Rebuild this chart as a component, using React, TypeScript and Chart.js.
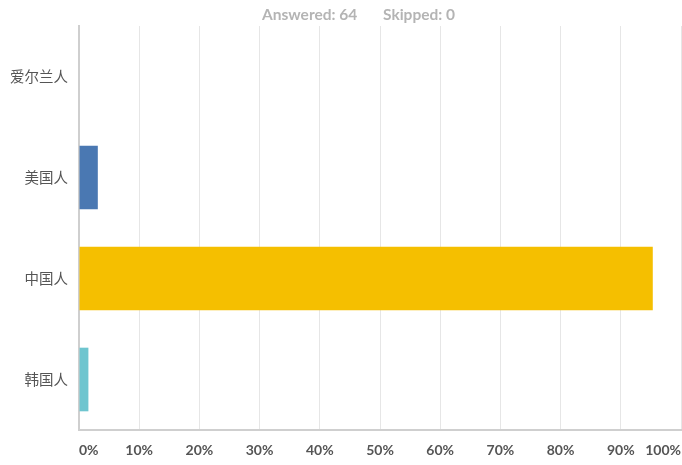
import React, { useEffect, useRef } from "react";
import { Chart, registerables } from "chart.js";

Chart.register(...registerables);

const categories = ["爱尔兰人", "美国人", "中国人", "韩国人"];
const percentValues = [0, 3.125, 95.3125, 1.5625];
const barColors = ["#5b8fc9", "#4a78b2", "#f5bf00", "#6ec5cf"];
const xTickValues = [0, 10, 20, 30, 40, 50, 60, 70, 80, 90, 100];
const headerTexts = ["Answered: 64", "Skipped: 0"];

const headerPlugin = {
  id: "headerText",
  afterDraw(chart: any) {
    const ctx = chart.ctx;
    ctx.save();
    ctx.font = "bold 15.5px Lato, 'Open Sans', sans-serif";
    ctx.fillStyle = "#b4b4b4";
    ctx.textBaseline = "middle";
    ctx.textAlign = "left";
    ctx.fillText(headerTexts[0], 262, 15);
    ctx.fillText(headerTexts[1], 383, 15);
    ctx.restore();
  },
};

export default function App() {
  const ref = useRef<HTMLCanvasElement | null>(null);
  useEffect(() => {
    if (!ref.current) return;
    const chart = new Chart(ref.current, {
      type: "bar",
      data: {
        labels: categories,
        datasets: [
          {
            data: percentValues,
            backgroundColor: barColors,
            borderWidth: 0,
            barPercentage: 0.63,
            categoryPercentage: 1,
          },
        ],
      },
      options: {
        indexAxis: "y",
        animation: false,
        responsive: false,
        maintainAspectRatio: false,
        layout: { padding: { top: 26, right: 1, left: 0, bottom: 0 } },
        plugins: {
          legend: { display: false },
          title: { display: false },
          tooltip: { enabled: false },
        },
        scales: {
          x: {
            min: 0,
            max: 100,
            afterBuildTicks(scale: any) {
              scale.ticks = xTickValues.map((v) => ({ value: v }));
            },
            afterFit(scale: any) {
              scale.height = 35;
              scale.paddingLeft = 0;
              scale.paddingRight = 0;
            },
            grid: {
              color: "#e6e6e6",
              lineWidth: 1,
              drawTicks: false,
            },
            border: { color: "#cfcfcf", width: 2 },
            ticks: {
              align: "inner",
              padding: 12,
              color: "#555555",
              font: { family: "Lato, 'Open Sans', sans-serif", size: 14, weight: "bold" },
              callback: (v: any) => v + "%",
            },
          },
          y: {
            afterFit(scale: any) {
              scale.width = 79;
            },
            grid: { display: false, drawTicks: false },
            border: { color: "#cfcfcf", width: 2 },
            ticks: {
              padding: 11,
              color: "#555555",
              font: { family: "'Noto Sans CJK SC', sans-serif", size: 14.5 },
            },
          },
        },
      },
      plugins: [headerPlugin],
    } as any);
    return () => chart.destroy();
  }, []);
  return (
    <div style={{ position: "fixed", left: 0, top: 0, width: 682, height: 465, background: "#fff" }}>
      <canvas ref={ref} width={682} height={465} style={{ display: "block" }} />
    </div>
  );
}
